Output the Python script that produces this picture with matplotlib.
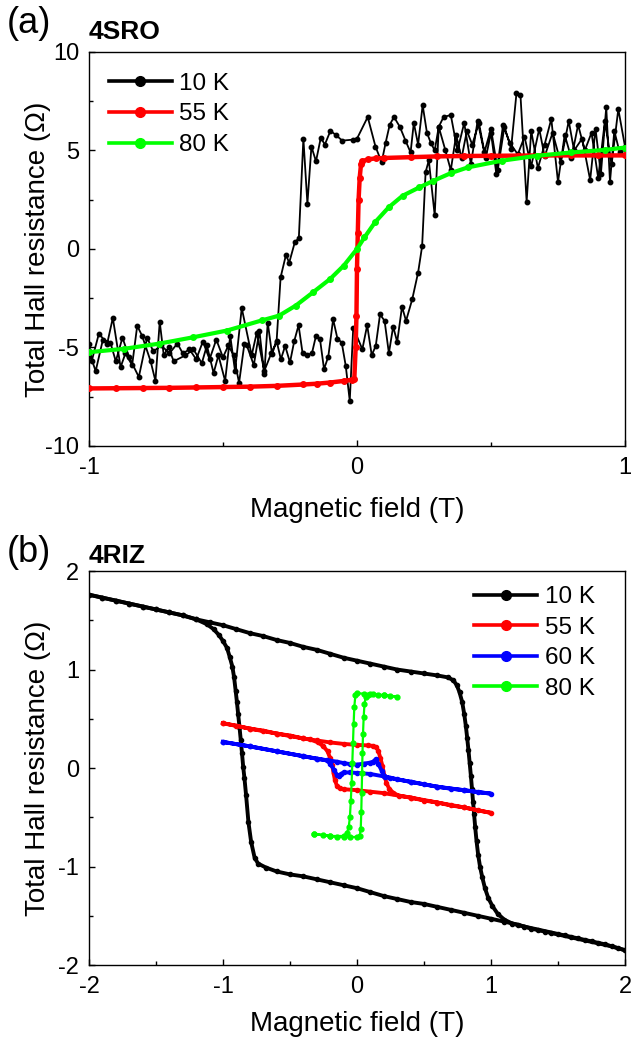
import matplotlib
matplotlib.use("Agg")
import matplotlib.pyplot as plt
from matplotlib.lines import Line2D
from matplotlib.ticker import MultipleLocator

plt.rcParams.update({
    "font.family": ["Liberation Sans", "DejaVu Sans"],
    "axes.unicode_minus": False,
    "xtick.direction": "in",
    "ytick.direction": "in",
})

# ---------------- panel (a): 4SRO ----------------
# 10 K, field swept down (+1 -> -1)
a10_down_x = [1.000, 0.975, 0.950, 0.925, 0.900, 0.875, 0.850, 0.825, 0.800, 0.775,
              0.750, 0.725, 0.700, 0.675, 0.650, 0.633, 0.610, 0.595, 0.575, 0.550,
              0.525, 0.500, 0.475, 0.450, 0.425, 0.400, 0.375, 0.350, 0.323, 0.305,
              0.290, 0.275, 0.261, 0.245, 0.228, 0.212, 0.200, 0.181, 0.160, 0.138,
              0.122, 0.107, 0.092, 0.069, 0.040, 0.000, -0.016, -0.055, -0.080, -0.099,
              -0.120, -0.135, -0.153, -0.170, -0.185, -0.200, -0.217, -0.232, -0.253, -0.265,
              -0.285, -0.300, -0.320, -0.346, -0.374, -0.393, -0.430, -0.455, -0.473, -0.492,
              -0.517, -0.535, -0.560, -0.579, -0.610, -0.640, -0.684, -0.703, -0.721, -0.736,
              -0.752, -0.770, -0.802, -0.820, -0.839, -0.864, -0.882, -0.911, -0.932, -0.963,
              -0.990, -1.000]
a10_down_y = [5.2, 7.1, 4.3, 6.5, 3.6, 5.9, 5.0, 6.3, 4.6, 5.8,
              3.4, 6.6, 5.3, 4.1, 6.0, 2.4, 7.8, 7.9, 5.1, 6.2,
              4.0, 6.1, 4.9, 6.5, 4.3, 6.4, 5.0, 6.8, 6.7, 6.2,
              5.0, 5.4, 5.9, 7.3, 5.3, 6.4, 4.9, 5.5, 6.2, 6.7,
              6.3, 5.4, 4.4, 5.2, 6.7, 5.6, 5.55, 5.5, 5.8, 6.0,
              5.3, 5.65, 4.45, 5.2, 2.3, 5.6, 0.55, 0.34, -0.7, -0.3,
              -1.44, -4.7, -5.3, -6.2, -4.25, -5.4, -3.0, -6.2, -4.4, -6.7,
              -5.4, -6.3, -4.9, -5.8, -5.1, -5.4, -5.7, -5.0, -5.4, -3.7,
              -6.7, -5.7, -4.4, -3.9, -5.9, -5.3, -6.0, -3.5, -4.8, -4.3,
              -5.7, -4.8]
# 10 K, field swept up (-1 -> +1)
a10_up_x = [-1.000, -0.975, -0.948, -0.920, -0.900, -0.875, -0.850, -0.814, -0.783, -0.760,
            -0.730, -0.700, -0.670, -0.650, -0.625, -0.600, -0.575, -0.550, -0.525, -0.500,
            -0.480, -0.460, -0.440, -0.420, -0.411, -0.385, -0.364, -0.346, -0.333, -0.317,
            -0.300, -0.284, -0.268, -0.250, -0.234, -0.218, -0.203, -0.185, -0.168, -0.153,
            -0.138, -0.123, -0.107, -0.089, -0.073, -0.057, -0.042, -0.027, -0.014, 0.020,
            0.038, 0.055, 0.070, 0.086, 0.103, 0.119, 0.135, 0.150, 0.168, 0.183,
            0.206, 0.228, 0.243, 0.256, 0.268, 0.290, 0.305, 0.330, 0.350, 0.370,
            0.390, 0.410, 0.430, 0.455, 0.480, 0.500, 0.520, 0.545, 0.570, 0.600,
            0.625, 0.650, 0.680, 0.700, 0.730, 0.760, 0.790, 0.810, 0.840, 0.870,
            0.890, 0.910, 0.930, 0.944, 0.960, 0.980, 1.000]
a10_up_y = [-5.2, -6.2, -4.6, -4.75, -5.7, -4.5, -5.5, -6.5, -4.5, -5.2,
            -4.9, -5.3, -4.8, -5.3, -5.1, -5.6, -4.7, -5.6, -4.6, -5.5,
            -4.9, -5.4, -6.8, -4.8, -4.9, -5.9, -4.16, -6.35, -3.74, -5.34,
            -4.67, -5.6, -4.92, -5.76, -4.67, -3.87, -5.29, -5.39, -5.29, -4.41,
            -4.58, -6.1, -5.46, -3.57, -4.55, -4.75, -5.93, -7.71, -3.99, -5.09,
            -3.87, -5.39, -4.92, -3.32, -3.65, -5.29, -3.94, -4.72, -2.93, -3.65,
            -2.56, -1.2, 0.14, 3.9, 4.5, 1.7, 6.2, 5.0, 4.0, 5.8,
            4.6, 6.0, 5.3, 6.4, 4.6, 5.9, 3.8, 6.3, 5.4, 4.8,
            5.7, 4.2, 6.1, 4.7, 5.9, 4.4, 6.5, 5.0, 5.6, 3.5,
            6.1, 3.8, 7.2, 3.4, 6.0, 4.9, 5.1]
# 55 K
a55_x = [-1.0, -0.9, -0.8, -0.7, -0.6, -0.5, -0.4, -0.3, -0.2, -0.15,
         -0.1, -0.05, -0.02, -0.01, -0.005, -0.002, 0.0, 0.003, 0.006, 0.01,
         0.015, 0.02, 0.04, 0.07, 0.1, 0.2, 0.3, 0.4, 0.5, 0.6,
         0.7, 0.8, 0.9, 1.0]
a55_y = [-7.08, -7.07, -7.06, -7.05, -7.03, -7.01, -6.99, -6.95, -6.88, -6.84,
         -6.78, -6.7, -6.64, -6.6, -5.0, -3.4, -1.0, 0.8, 2.5, 3.6,
         4.3, 4.45, 4.55, 4.6, 4.62, 4.66, 4.7, 4.72, 4.73, 4.74,
         4.75, 4.75, 4.75, 4.75]
# 80 K
a80_x = [-1.0, -0.87, -0.74, -0.61, -0.485, -0.356, -0.29, -0.228, -0.164, -0.1,
         -0.049, 0.0, 0.028, 0.067, 0.118, 0.17, 0.233, 0.285, 0.35, 0.413,
         0.54, 0.67, 0.8, 0.925, 1.0]
a80_y = [-5.24, -5.07, -4.81, -4.48, -4.14, -3.63, -3.38, -2.87, -2.2, -1.52,
         -0.84, 0.0, 0.59, 1.35, 2.11, 2.7, 3.13, 3.46, 3.85, 4.14,
         4.48, 4.73, 4.9, 5.03, 5.15]

# ---------------- panel (b): 4RIZ ----------------
b10_a_x = [-2.0, -1.9, -1.8, -1.7, -1.6, -1.5, -1.4, -1.3, -1.2, -1.1,
           -1.0, -0.9, -0.8, -0.7, -0.6, -0.5, -0.4, -0.3, -0.2, -0.1,
           0.0, 0.1, 0.2, 0.3, 0.4, 0.5, 0.6, 0.68, 0.72, 0.745,
           0.765, 0.785, 0.8, 0.812, 0.822, 0.832, 0.841, 0.85, 0.858, 0.866,
           0.874, 0.882, 0.892, 0.904, 0.918, 0.935, 0.955, 0.98, 1.01, 1.05,
           1.1, 1.16, 1.25, 1.35, 1.45, 1.55, 1.65, 1.75, 1.85, 1.95, 2.0]
b10_a_y = [1.76, 1.73, 1.70, 1.67, 1.64, 1.61, 1.58, 1.55, 1.51, 1.48,
           1.45, 1.41, 1.37, 1.34, 1.30, 1.27, 1.23, 1.20, 1.16, 1.12,
           1.09, 1.06, 1.03, 1.00, 0.98, 0.96, 0.94, 0.92, 0.89, 0.84,
           0.77, 0.67, 0.55, 0.43, 0.31, 0.18, 0.05, -0.08, -0.21, -0.34,
           -0.47, -0.60, -0.74, -0.88, -1.00, -1.11, -1.22, -1.32, -1.40, -1.48,
           -1.54, -1.58, -1.61, -1.64, -1.67, -1.70, -1.73, -1.76, -1.79, -1.83, -1.85]
b10_b_x = [2.0, 1.9, 1.8, 1.7, 1.6, 1.5, 1.4, 1.3, 1.2, 1.1,
           1.0, 0.9, 0.8, 0.7, 0.6, 0.5, 0.4, 0.3, 0.2, 0.1,
           0.0, -0.1, -0.2, -0.3, -0.4, -0.5, -0.6, -0.68, -0.738, -0.764,
           -0.79, -0.81, -0.828, -0.84, -0.849, -0.858, -0.867, -0.877, -0.887, -0.896,
           -0.905, -0.917, -0.93, -0.95, -0.97, -1.0, -1.03, -1.07, -1.12, -1.2,
           -1.3, -1.4, -1.5, -1.6, -1.7, -1.8, -1.9, -2.0]
b10_b_y = [-1.85, -1.81, -1.78, -1.75, -1.72, -1.69, -1.66, -1.63, -1.59, -1.56,
           -1.53, -1.50, -1.47, -1.44, -1.41, -1.38, -1.36, -1.33, -1.30, -1.26,
           -1.22, -1.19, -1.16, -1.13, -1.10, -1.08, -1.05, -1.01, -0.97, -0.91,
           -0.75, -0.55, -0.27, -0.10, 0.01, 0.15, 0.28, 0.42, 0.55, 0.67,
           0.78, 0.92, 1.03, 1.13, 1.22, 1.29, 1.35, 1.41, 1.46, 1.51,
           1.55, 1.58, 1.61, 1.64, 1.67, 1.70, 1.73, 1.76]
b55_x = [-1.0, -0.9, -0.8, -0.7, -0.6, -0.5, -0.4, -0.3, -0.2, -0.1,
         0.0, 0.08, 0.12, 0.145, 0.16, 0.175, 0.19, 0.205, 0.22, 0.24,
         0.27, 0.31, 0.4, 0.5, 0.6, 0.7, 0.8, 0.9, 1.0,
         0.8, 0.6, 0.4, 0.2, 0.1, 0.0, -0.1, -0.13, -0.15, -0.165,
         -0.175, -0.185, -0.2, -0.22, -0.25, -0.29, -0.35, -0.4, -0.6, -0.8, -1.0]
b55_y = [0.455, 0.43, 0.40, 0.38, 0.35, 0.33, 0.30, 0.28, 0.26, 0.245,
         0.235, 0.23, 0.225, 0.21, 0.17, 0.10, 0.02, -0.08, -0.15, -0.21,
         -0.25, -0.28, -0.30, -0.33, -0.35, -0.38, -0.40, -0.43, -0.455,
         -0.40, -0.35, -0.30, -0.255, -0.24, -0.225, -0.215, -0.205, -0.18, -0.12,
         -0.05, 0.03, 0.10, 0.17, 0.22, 0.26, 0.29, 0.30, 0.35, 0.40, 0.455]
b60_x = [-1.0, -0.8, -0.6, -0.4, -0.3, -0.226, -0.2, -0.17, -0.15, -0.135,
         -0.12, -0.1, -0.05, 0.0, 0.1, 0.2, 0.3, 0.4, 0.5, 0.6,
         0.7, 0.8, 0.9, 1.0,
         0.8, 0.6, 0.4, 0.25, 0.21, 0.185, 0.16, 0.14, 0.12, 0.1,
         0.05, 0.0, -0.05, -0.1, -0.15, -0.2, -0.3, -0.4, -0.6, -0.8, -1.0]
b60_y = [0.265, 0.22, 0.17, 0.12, 0.095, 0.077, 0.044, -0.02, -0.07, -0.085,
         -0.06, -0.045, -0.045, -0.05, -0.06, -0.085, -0.115, -0.14, -0.165, -0.19,
         -0.21, -0.225, -0.245, -0.26,
         -0.225, -0.19, -0.14, -0.10, -0.09, -0.03, 0.04, 0.09, 0.065, 0.055,
         0.045, 0.035, 0.04, 0.05, 0.065, 0.075, 0.095, 0.12, 0.17, 0.22, 0.265]
b80_x = [-0.32, -0.25, -0.2, -0.15, -0.1, -0.05, 0.0, 0.02, 0.028, 0.032,
         0.035, 0.038, 0.041, 0.045, 0.05, 0.056, 0.065, 0.08, 0.12, 0.16,
         0.2, 0.25, 0.3,
         0.2, 0.1, 0.05, 0.0, -0.012, -0.02, -0.025, -0.03, -0.035, -0.04,
         -0.046, -0.053, -0.062, -0.075, -0.1, -0.2, -0.32]
b80_y = [-0.67, -0.68, -0.69, -0.70, -0.70, -0.70, -0.70, -0.69, -0.62, -0.45,
         -0.25, -0.05, 0.15, 0.35, 0.52, 0.65, 0.72, 0.745, 0.75, 0.745,
         0.74, 0.73, 0.725,
         0.74, 0.75, 0.755, 0.76, 0.74, 0.62, 0.45, 0.25, 0.05, -0.15,
         -0.33, -0.5, -0.6, -0.66, -0.69, -0.69, -0.67]

temps_a = ["10 K", "55 K", "80 K"]
temps_b = ["10 K", "55 K", "60 K", "80 K"]
colors = {"10 K": "black", "55 K": "#ff0000", "60 K": "#0000ff", "80 K": "#00ff00"}

fig = plt.figure(figsize=(6.31, 10.40), dpi=100)
ax1 = fig.add_axes([0.141, 0.5712, 0.8495, 0.3788])
ax2 = fig.add_axes([0.141, 0.0721, 0.8495, 0.3788])

# panel (a)
ax1.plot(a10_down_x + a10_up_x, a10_down_y + a10_up_y, "-o", color="black",
         lw=1.3, ms=3.2, zorder=2)
ax1.plot(a55_x, a55_y, "-o", color=colors["55 K"], lw=3.2, ms=4, zorder=3)
ax1.plot(a80_x, a80_y, "-o", color=colors["80 K"], lw=3.0, ms=4, zorder=4)

# panel (b)
ax2.plot(b10_a_x, b10_a_y, "-o", color="black", lw=2.8, ms=3, zorder=2)
ax2.plot(b10_b_x, b10_b_y, "-o", color="black", lw=2.8, ms=3, zorder=2)
ax2.plot(b55_x, b55_y, "-o", color=colors["55 K"], lw=2.8, ms=3, zorder=3)
ax2.plot(b60_x, b60_y, "-o", color=colors["60 K"], lw=2.8, ms=3, zorder=4)
ax2.plot(b80_x, b80_y, "-o", color=colors["80 K"], lw=1.6, ms=3.5, zorder=5)

for ax, temps, loc, anchor in [(ax1, temps_a, "upper left", (0.005, 0.99)),
                               (ax2, temps_b, "upper right", (0.975, 1.005))]:
    handles = [Line2D([], [], color=colors[t], lw=2.6, marker="o", ms=7) for t in temps]
    ax.legend(handles, temps, loc=loc, bbox_to_anchor=anchor, frameon=False,
              fontsize=17.5, handlelength=2.6, handletextpad=0.3, labelspacing=0.35,
              borderaxespad=0.3)
    for s in ax.spines.values():
        s.set_linewidth(1.0)
    ax.tick_params(which="both", top=False, right=False, labelsize=17, width=1.0)
    ax.tick_params(which="major", length=4.5)
    ax.tick_params(which="minor", length=3)
    ax.tick_params(axis="x", which="major", pad=8)
    ax.tick_params(axis="y", which="major", pad=7)
    ax.set_ylabel("Total Hall resistance (\u03a9)", fontsize=20)
    ax.yaxis.set_label_coords(-0.07, 0.5)

ax1.set_xlabel("Magnetic field (T)", fontsize=20, labelpad=13)
ax2.set_xlabel("Magnetic field (T)", fontsize=20, labelpad=9)

ax1.set_xlim(-1, 1)
ax1.set_ylim(-10, 10)
ax1.xaxis.set_major_locator(MultipleLocator(1))
ax1.xaxis.set_minor_locator(MultipleLocator(0.5))
ax1.yaxis.set_major_locator(MultipleLocator(5))
ax1.yaxis.set_minor_locator(MultipleLocator(2.5))

ax2.set_xlim(-2, 2)
ax2.set_ylim(-2, 2)
ax2.xaxis.set_major_locator(MultipleLocator(1))
ax2.xaxis.set_minor_locator(MultipleLocator(0.5))
ax2.yaxis.set_major_locator(MultipleLocator(1))
ax2.yaxis.set_minor_locator(MultipleLocator(0.5))

fig.text(0.010, 0.977, "(a)", fontsize=26, va="center", ha="left")
fig.text(0.140, 0.969, "4SRO", fontsize=19, fontweight="bold", va="center", ha="left")
fig.text(0.010, 0.469, "(b)", fontsize=26, va="center", ha="left")
fig.text(0.140, 0.465, "4RIZ", fontsize=19, fontweight="bold", va="center", ha="left")

fig.savefig("out.png", dpi=100, facecolor="white")
